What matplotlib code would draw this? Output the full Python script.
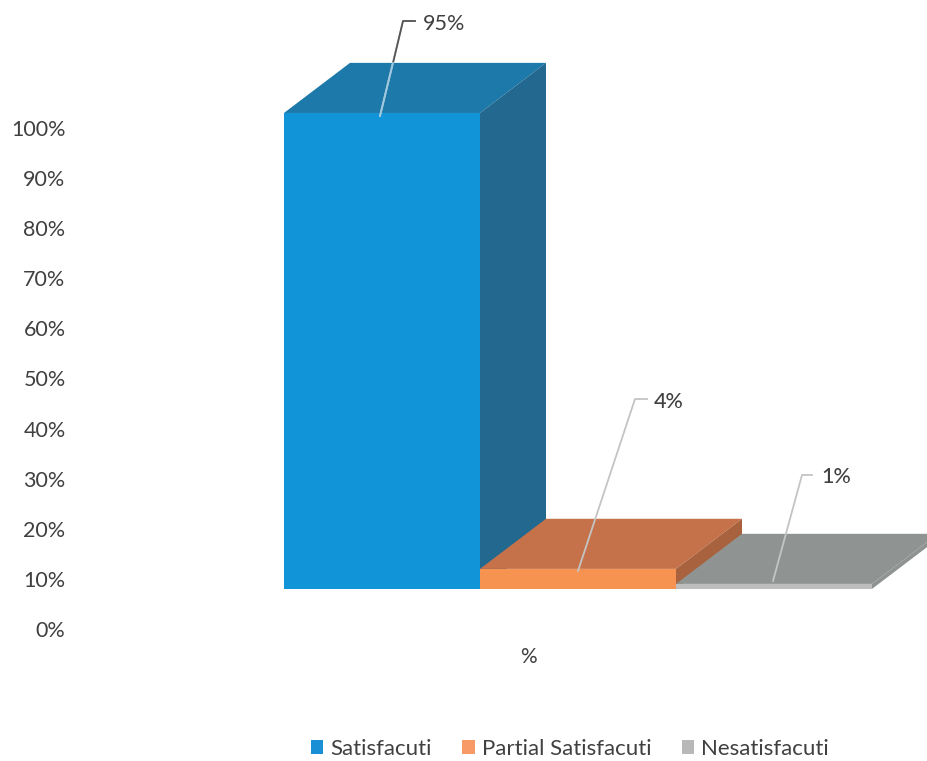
import matplotlib
matplotlib.use("Agg")
import matplotlib.pyplot as plt
from matplotlib.patches import Polygon, Patch

plt.rcParams['font.family'] = ['Lato', 'DejaVu Sans']

categories = ["Satisfacuti", "Partial Satisfacuti", "Nesatisfacuti"]
values = [95, 4, 1]
value_labels = ["95%", "4%", "1%"]
y_ticks = [0, 10, 20, 30, 40, 50, 60, 70, 80, 90, 100]
y_tick_labels = ["0%", "10%", "20%", "30%", "40%", "50%", "60%", "70%", "80%", "90%", "100%"]
axis_label = "%"

front_colors = ["#1295d8", "#f79350", "#bcbdbc"]
top_colors = ["#1c79a9", "#c5724a", "#8f9492"]
side_colors = ["#23688f", "#a9623e", "#8f9492"]
legend_colors = ["#1a8fd6", "#f79a68", "#b8b8b8"]
text_color = "#404040"

# floor of the box chart and the oblique depth, in data units
FLOOR = 8
DEPTH_X = 66 / 196
DEPTH_Y = 10
BAR_W = 1.0

fig = plt.figure(figsize=(9.27, 7.61), dpi=100)
ax = fig.add_axes([76 / 927, (761 - 629) / 761, (927 - 76) / 927, 501 / 761])
px_x = 196.0
ax.set_xlim((76 - 284) / px_x - 0.5, (927 - 284) / px_x - 0.5)
ax.set_ylim(0, 100)
for spine in ax.spines.values():
    spine.set_visible(False)
ax.set_xticks([])
ax.set_yticks(y_ticks)
ax.set_yticklabels(y_tick_labels, fontsize=15.5, color=text_color)
ax.tick_params(axis='y', length=0, pad=7.5)

for i, v in enumerate(values):
    x0 = i - BAR_W / 2
    x1 = i + BAR_W / 2
    top = FLOOR + v
    ax.bar(i, v, BAR_W, bottom=FLOOR, color=front_colors[i], linewidth=0, clip_on=False, zorder=2 + i)
    ax.add_patch(Polygon([(x0, top), (x1, top), (x1 + DEPTH_X, top + DEPTH_Y), (x0 + DEPTH_X, top + DEPTH_Y)],
                         closed=True, facecolor=top_colors[i], linewidth=0, clip_on=False, zorder=2 + i))
    ax.add_patch(Polygon([(x1, FLOOR), (x1, top), (x1 + DEPTH_X, top + DEPTH_Y), (x1 + DEPTH_X, FLOOR + DEPTH_Y)],
                         closed=True, facecolor=side_colors[i], linewidth=0, clip_on=False, zorder=2 + i))

# leader lines and value labels, placed in pixels from the figure corner
def px(x, y):
    return x / 927, 1 - y / 761

leaders = [
    [(380, 116), (403, 21), (415, 21)],
    [(578, 571), (635, 399), (647, 399)],
    [(773, 581), (802, 475), (812, 475)],
]
label_pos = [(423, 24), (654, 402), (821, 477)]
label_weights = ["normal", "medium", "medium"]

for pts, pos, lab, w in zip(leaders, label_pos, value_labels, label_weights):
    xs, ys = zip(*[px(*p) for p in pts])
    fig.add_artist(plt.Line2D(xs, ys, color="#c4c4c4", linewidth=1.3, zorder=10))
    fig.text(*px(*pos), lab, fontsize=15.5, fontweight=w, color=text_color, ha='left', va='center', zorder=11)

# first leader reads darker where it runs on white and pale across the bar
xs, ys = zip(*[px(*p) for p in [(393, 63), (403, 21), (415, 21)]])
fig.add_artist(plt.Line2D(xs, ys, color="#555555", linewidth=1.3, zorder=10.5))
xs, ys = zip(*[px(*p) for p in [(380, 116), (393, 63)]])
fig.add_artist(plt.Line2D(xs, ys, color="#9cc9e2", linewidth=1.3, zorder=10.5))

fig.text(*px(528, 657), axis_label, fontsize=15, color=text_color, ha='center', va='center')

handles = [Patch(facecolor=c, linewidth=0) for c in legend_colors]
fig.legend(handles, categories, loc='center', bbox_to_anchor=px(570, 749), ncol=3, frameon=False,
           fontsize=16, labelcolor=text_color, handlelength=0.55, handleheight=0.55,
           handletextpad=0.33, columnspacing=1.36, borderpad=0, borderaxespad=0)

fig.savefig("out.png", dpi=100)
